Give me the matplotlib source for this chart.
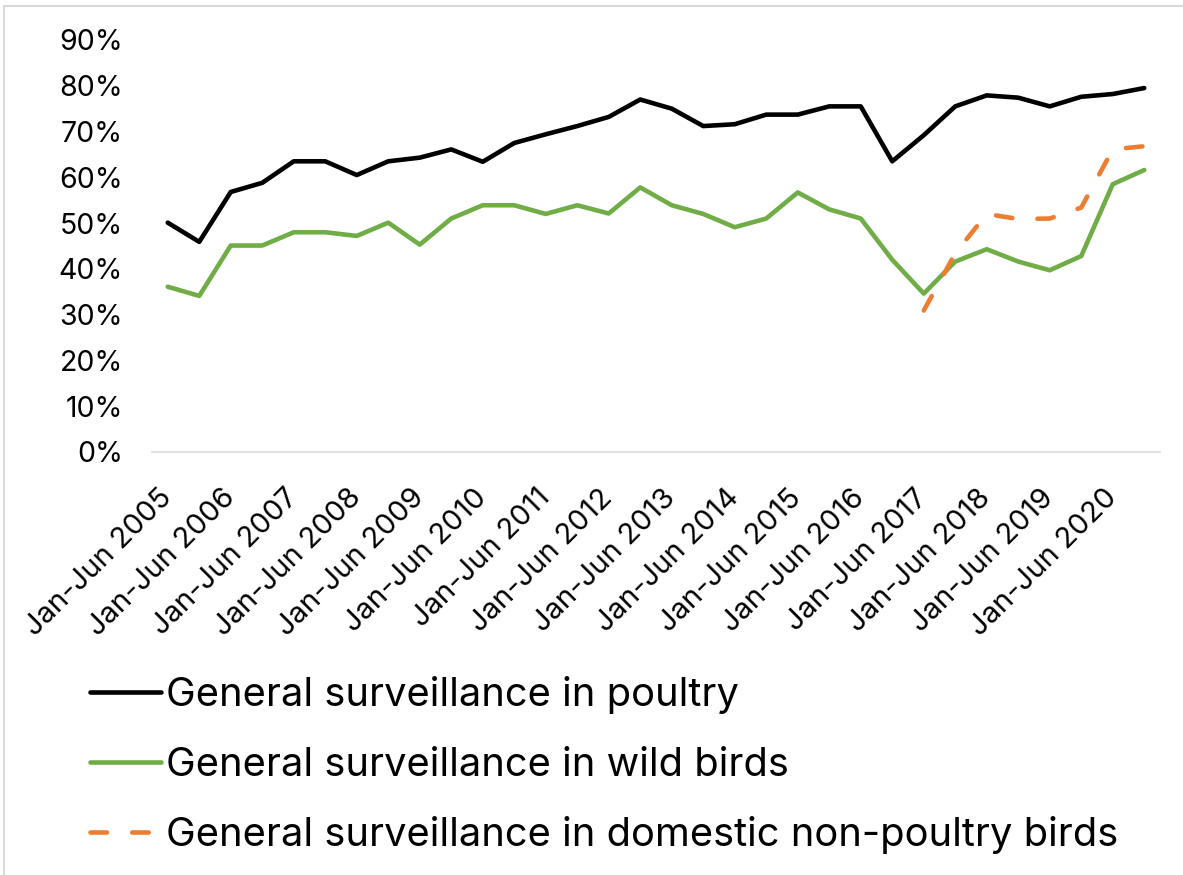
import numpy as np
import matplotlib
matplotlib.use("Agg")
import matplotlib.pyplot as plt
from matplotlib.patches import Rectangle
from matplotlib.ticker import FuncFormatter

years = list(range(2005, 2021))
categories = []
for y in years:
    categories.append(f"Jan-Jun {y}")
    categories.append(f"Jul-Dec {y}")

poultry = [50.1, 45.9, 56.8, 58.8, 63.5, 63.5, 60.5, 63.5, 64.3, 66.1, 63.4, 67.5,
           69.4, 71.2, 73.2, 77.0, 75.0, 71.2, 71.6, 73.7, 73.7, 75.5, 75.5, 63.5,
           69.2, 75.5, 77.9, 77.4, 75.5, 77.6, 78.2, 79.5]
wild_birds = [36.1, 34.1, 45.1, 45.1, 48.0, 48.0, 47.2, 50.1, 45.3, 51.0, 53.9, 53.9,
              52.0, 53.9, 52.1, 57.8, 53.9, 52.0, 49.1, 51.0, 56.7, 53.0, 51.0, 42.0,
              34.6, 41.6, 44.3, 41.6, 39.7, 42.8, 58.5, 61.6]
domestic = [np.nan] * 24 + [30.9, 43.4, 52.0, 50.9, 51.0, 53.4, 66.1, 66.8]

series_names = ["General surveillance in poultry",
                "General surveillance in wild birds",
                "General surveillance in domestic non-poultry birds"]

plt.rcParams['font.family'] = ['Inter', 'DejaVu Sans']

W, H = 1183, 875
fig = plt.figure(figsize=(W / 100, H / 100), dpi=100)
ax = fig.add_axes([152 / W, 1 - 452 / H, (1160 - 152) / W, (452 - 40) / H])

x = np.arange(len(categories))
lw = 3.3
ax.plot(x, poultry, color="#000000", lw=lw, solid_joinstyle="round",
        solid_capstyle="round", label=series_names[0])
ax.plot(x, wild_birds, color="#70AD47", lw=lw, solid_joinstyle="round",
        solid_capstyle="round", label=series_names[1])
ax.plot(x, domestic, color="#ED7D31", lw=lw, dashes=(3.6, 5.5),
        dash_capstyle="round", label=series_names[2])

ax.set_xlim(-0.5, len(categories) - 0.5)
ax.set_ylim(0, 90)
ax.set_yticks(np.arange(0, 91, 10))
ax.yaxis.set_major_formatter(FuncFormatter(lambda v, p: f"{v:.0f}%"))
ax.set_xticks(x[::2])
ax.set_xticklabels(categories[::2], rotation=45, ha="right", va="center",
                   rotation_mode="anchor")
ax.tick_params(axis="y", length=0, labelsize=20.5, pad=21)
ax.tick_params(axis="x", length=0, labelsize=21, pad=30)

for s in ["top", "right", "left"]:
    ax.spines[s].set_visible(False)
ax.spines["bottom"].set_color("#D9D9D9")
ax.spines["bottom"].set_linewidth(1.2)

fig.legend(loc="upper left", bbox_to_anchor=(90 / W, 1 - 676 / H),
           frameon=False, fontsize=28.7, handlelength=1.78, handletextpad=0.12,
           labelspacing=0.82, borderpad=0, borderaxespad=0)

fig.patches.append(Rectangle((4 / W, -0.1), 1.2, 1 - 5.5 / H + 0.1,
                             transform=fig.transFigure, fill=False,
                             edgecolor="#D9D9D9", lw=1.5))

fig.savefig("out.png", dpi=100)
